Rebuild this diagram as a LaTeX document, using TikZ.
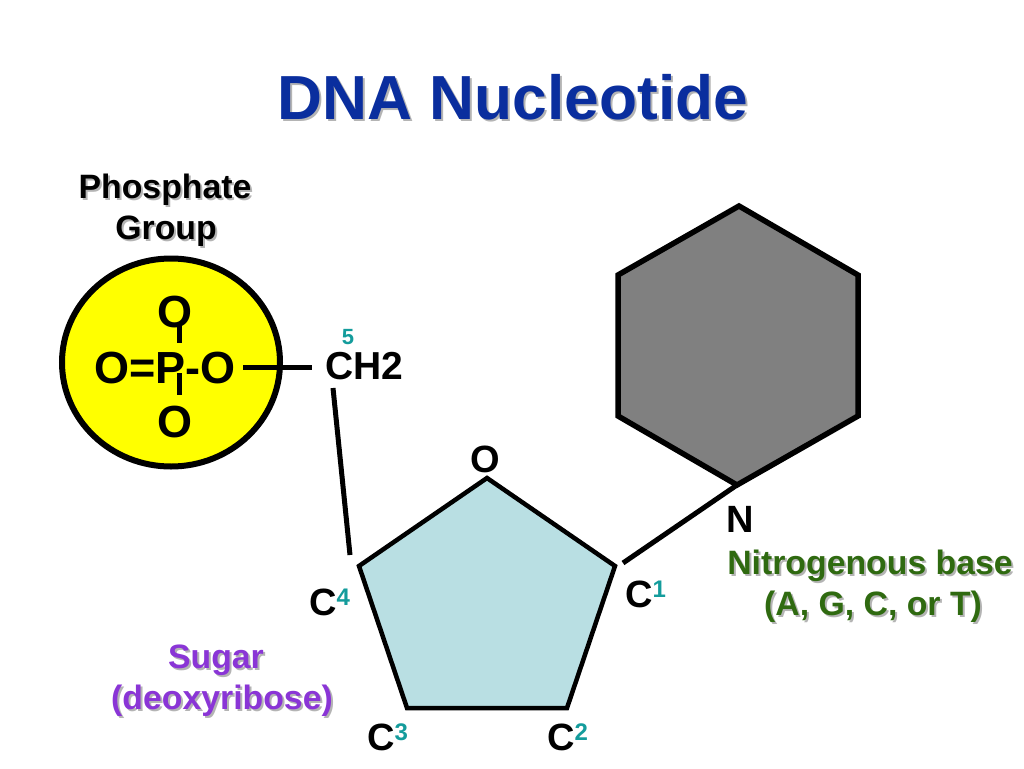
\documentclass[tikz,border=0pt]{standalone}
\usepackage{fontspec}
\setmainfont{Liberation Sans}
\usepackage{tikz}
\usetikzlibrary{calc,positioning,shapes.geometric}
\definecolor{titleblue}{HTML}{0A2E9E}
\definecolor{shadegray}{HTML}{B4B4B4}
\definecolor{phosyellow}{HTML}{FFFF00}
\definecolor{ringgray}{HTML}{808080}
\definecolor{sugarblue}{HTML}{B9DFE3}
\definecolor{numteal}{HTML}{149C9C}
\definecolor{sugarpurple}{HTML}{8A35D6}
\definecolor{basegreen}{HTML}{2F6A10}
\newcommand{\shadowed}[1]{\leavevmode\rlap{\hspace{2pt}\raisebox{-2pt}{\textcolor{shadegray}{#1}}}#1}
\newcommand{\numsup}[1]{\raisebox{10pt}{\fontsize{24}{24}\selectfont\textcolor{numteal}{#1}}}
\tikzset{
  bond/.style={line width=5pt,line cap=butt,color=black},
  stub/.style={line width=5pt,color=black},
  atom/.style={inner sep=0pt,text=black,font=\fontsize{38}{40}\selectfont\bfseries},
  bigatom/.style={inner sep=0pt,text=black,font=\fontsize{45}{48}\selectfont\bfseries},
  caption/.style={inner sep=0pt,align=center,font=\fontsize{33.8}{41}\selectfont\bfseries}
}
\begin{document}
\begin{tikzpicture}[x=1pt,y=-1pt]
  \useasboundingbox (0,0) rectangle (1024,768);
  % ring corners
  \coordinate (hexa) at (739,206);
  \coordinate (hexb) at (858,275);
  \coordinate (hexc) at (858,416);
  \coordinate (hexd) at (737,485);
  \coordinate (hexe) at (618,416);
  \coordinate (hexf) at (618,275);
  \coordinate (cox) at (487,478);
  \coordinate (cone) at (615,566);
  \coordinate (ctwo) at (567,708);
  \coordinate (cthree) at (407,708);
  \coordinate (cfour) at (359,566);
  % loose bond ends
  \coordinate (otail) at (243,367);
  \coordinate (chin) at (312,367);
  \coordinate (chout) at (333,388);
  \coordinate (cfourin) at (350,555);
  \coordinate (coneout) at (623,563);
  \coordinate (uptop) at (179,323);
  \coordinate (upbot) at (179,343);
  \coordinate (lowtop) at (179,373);
  \coordinate (lowbot) at (179,395);

  \draw[line width=5.5pt,fill=ringgray,line join=miter] (hexa)--(hexb)--(hexc)--(hexd)--(hexe)--(hexf)--cycle;
  \draw[line width=4.5pt,fill=sugarblue,line join=miter] (cox)--(cone)--(ctwo)--(cthree)--(cfour)--cycle;
  \node[ellipse,draw,fill=phosyellow,line width=6pt,minimum width=218pt,minimum height=208pt,inner sep=0pt] (phoscircle) at (171,362.5) {};

  \node[anchor=base,inner sep=0pt,font=\fontsize{62.3}{66}\selectfont\bfseries,text=titleblue] (title) at (513,119) {\shadowed{DNA Nucleotide}};
  \node[caption] (phoslabel) at (165,211) {\shadowed{Phosphate}\\\hspace*{2pt}\shadowed{Group}};
  \node[caption,text=sugarpurple] (sugarlabel) at (222,682) {\shadowed{Sugar}\hspace*{12pt}\\\shadowed{(deoxyribose)}};
  \node[caption,text=basegreen] (baselabel) at (870,587) {\shadowed{Nitrogenous base}\\\hspace{6pt}\shadowed{(A, G, C, or T)}};

  \node[bigatom,anchor=base] (otop) at (175,327) {O};
  \node[bigatom,anchor=base west] (pchain) at (94,383) {O=P-O};
  \node[bigatom,anchor=base] (obot) at (175,437) {O};
  \node[anchor=base,inner sep=0pt,font=\fontsize{22}{22}\selectfont\bfseries,text=numteal] (fivelabel) at (348,344) {5};
  \node[anchor=base west,inner sep=0pt,font=\fontsize{39}{40}\selectfont\bfseries] (chgroup) at (325,379) {CH2};
  \node[atom,anchor=base] (oxlabel) at (485,472) {O};
  \node[atom,anchor=base west] (nlabel) at (726,532) {N};
  \node[atom,anchor=base west] (conelabel) at (625,607) {C\numsup{1}};
  \node[atom,anchor=base west] (ctwolabel) at (547,750) {C\numsup{2}};
  \node[atom,anchor=base west] (cthreelabel) at (367,750) {C\numsup{3}};
  \node[atom,anchor=base west] (cfourlabel) at (309,615) {C\numsup{4}};

  \draw[stub] (uptop) -- (upbot);
  \draw[stub] (lowtop) -- (lowbot);
  \draw[bond] (otail) -- (chin);
  \draw[bond] (chout) -- (cfourin);
  \draw[bond] (coneout) -- (hexd);
\end{tikzpicture}
\end{document}
